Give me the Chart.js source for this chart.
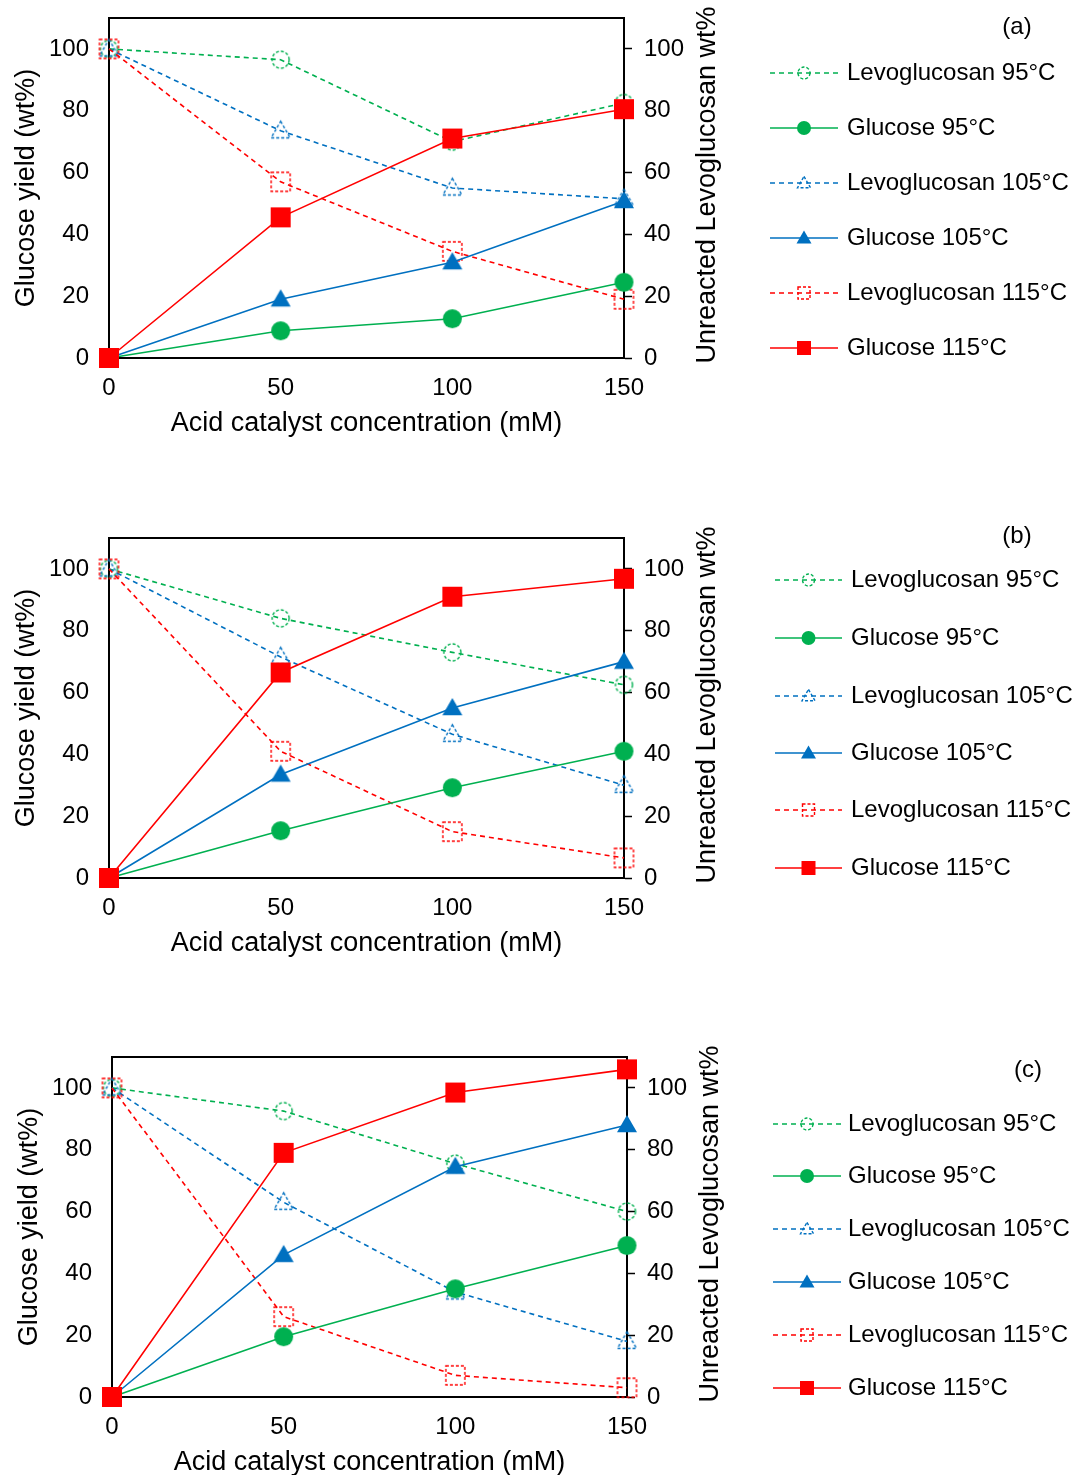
<!DOCTYPE html>
<html>
<head>
<meta charset="utf-8">
<script src="https://cdn.jsdelivr.net/npm/chart.js@4.4.0/dist/chart.umd.min.js"></script>
<style>
  html, body { margin: 0; padding: 0; background: #fff; overflow: hidden; }
  body { width: 1075px; height: 1475px; position: relative; }
  .panel { position: absolute; width: 1075px; height: 440px; }
</style>
</head>
<body>
<div class="panel" style="left:0;top:0"><canvas id="chartA" width="1075" height="440"></canvas></div>
<div class="panel" style="left:0;top:520px"><canvas id="chartB" width="1075" height="440"></canvas></div>
<div class="panel" style="left:3px;top:1039px"><canvas id="chartC" width="1075" height="440"></canvas></div>
<script>
const concentrations = [0, 50, 100, 150];
const seriesLabels = [
  "Levoglucosan 95°C", "Glucose 95°C",
  "Levoglucosan 105°C", "Glucose 105°C",
  "Levoglucosan 115°C", "Glucose 115°C"
];

// (a)
const levo95A = [100, 96.5, 70, 82.5];
const glc95A = [0, 8.8, 12.7, 24.5];
const levo105A = [100, 73.5, 55, 51.5];
const glc105A = [0, 19, 31, 50.8];
const levo115A = [100, 57, 34.5, 19];
const glc115A = [0, 45.5, 71, 80.5];

// (b)
const levo95B = [100, 84, 73, 62.5];
const glc95B = [0, 15.3, 29.2, 41];
const levo105B = [100, 71.5, 46.5, 30];
const glc105B = [0, 33.5, 55, 70];
const levo115B = [100, 41, 15, 6.5];
const glc115B = [0, 66.5, 91, 96.8];

// (c)
const levo95C = [100, 92.5, 75.5, 60];
const glc95C = [0, 19.5, 35, 49];
const levo105C = [100, 63, 34, 18];
const glc105C = [0, 46, 74.5, 88];
const levo115C = [100, 26, 7, 3];
const glc115C = [0, 79, 98.5, 106];

const GREEN = "#00B050", BLUE = "#0070C0", RED = "#FF0000";
const FONT = "'Liberation Sans', Arial, sans-serif";

Chart.defaults.font.family = FONT;
Chart.defaults.color = "#000";

// marker style per series (same order as seriesLabels)
const seriesStyles = [
  { color: GREEN, shape: "circle", dashed: true, axis: "y2", size: 17, legendSize: 12 },
  { color: GREEN, shape: "circle", dashed: false, axis: "y", size: 19, legendSize: 14 },
  { color: BLUE, shape: "triangle", dashed: true, axis: "y2", size: 19, legendSize: 13 },
  { color: BLUE, shape: "triangle", dashed: false, axis: "y", size: 20, legendSize: 15 },
  { color: RED, shape: "rect", dashed: true, axis: "y2", size: 19, legendSize: 12 },
  { color: RED, shape: "rect", dashed: false, axis: "y", size: 20, legendSize: 14 }
];

function drawShape(ctx, shape, color, dashed, x, y, size) {
  const h = size / 2;
  ctx.save();
  ctx.beginPath();
  if (shape === "circle") {
    ctx.arc(x, y, h, 0, Math.PI * 2);
  } else if (shape === "rect") {
    ctx.rect(x - h, y - h, size, size);
  } else {
    const th = size * 0.87;
    ctx.moveTo(x, y - th * 0.58);
    ctx.lineTo(x + h, y + th * 0.42);
    ctx.lineTo(x - h, y + th * 0.42);
    ctx.closePath();
  }
  if (dashed) {
    ctx.setLineDash([3, 2]);
    ctx.lineWidth = 1.4;
    ctx.strokeStyle = color;
    ctx.stroke();
  } else {
    ctx.fillStyle = color;
    ctx.fill();
  }
  ctx.restore();
}

function markerCanvas(style) {
  const dim = Math.ceil(style.size + 6);
  const c = document.createElement("canvas");
  c.width = dim;
  c.height = dim;
  drawShape(c.getContext("2d"), style.shape, style.color, style.dashed, dim / 2, dim / 2, style.size);
  return c;
}

const panelDecor = {
  id: "panelDecor",
  beforeDatasetsDraw(chart) {
    const { ctx, chartArea } = chart;
    ctx.save();
    ctx.strokeStyle = "#000";
    ctx.lineWidth = 2;
    ctx.beginPath();
    ctx.moveTo(chartArea.left - 1, chartArea.top);
    ctx.lineTo(chartArea.right + 1, chartArea.top);
    ctx.stroke();
    ctx.restore();
  },
  afterDraw(chart, args, opts) {
    const { ctx, chartArea } = chart;
    ctx.save();
    // right axis title, reading bottom to top
    ctx.translate(chartArea.right + 84, (chartArea.top + chartArea.bottom) / 2 - 3);
    ctx.rotate(-Math.PI / 2);
    ctx.font = "27px " + FONT;
    ctx.fillStyle = "#000";
    ctx.textAlign = "center";
    ctx.textBaseline = "middle";
    ctx.fillText("Unreacted Levoglucosan wt%", 0, 0);
    ctx.restore();

    // legend
    ctx.save();
    ctx.font = "24px " + FONT;
    ctx.textBaseline = "middle";
    ctx.textAlign = "left";
    chart.data.datasets.forEach((ds, i) => {
      const st = seriesStyles[i];
      const y = opts.rows[i];
      ctx.save();
      ctx.strokeStyle = st.color;
      ctx.lineWidth = 1.6;
      ctx.setLineDash(st.dashed ? [5, 4] : []);
      ctx.beginPath();
      ctx.moveTo(opts.lineX0, y);
      ctx.lineTo(opts.lineX1, y);
      ctx.stroke();
      ctx.restore();
      drawShape(ctx, st.shape, st.color, st.dashed, (opts.lineX0 + opts.lineX1) / 2, y, st.legendSize);
      ctx.fillStyle = "#000";
      ctx.fillText(ds.label, opts.textX, y);
    });
    ctx.textAlign = "center";
    ctx.fillText(opts.tag, opts.tagX, opts.tagY);
    ctx.restore();
  }
};

function makePanel(id, seriesValues, legendOpts) {
  const datasets = seriesValues.map((vals, i) => {
    const st = seriesStyles[i];
    return {
      label: seriesLabels[i],
      data: concentrations.map((c, k) => ({ x: c, y: vals[k] })),
      yAxisID: st.axis,
      borderColor: st.color,
      backgroundColor: st.color,
      borderWidth: 1.6,
      borderDash: st.dashed ? [5, 4] : [],
      pointStyle: markerCanvas(st),
      pointRadius: 10,
      pointHoverRadius: 10,
      // solid glucose series on top, red last-drawn
      order: st.dashed ? 20 - i : 10 - i,
      tension: 0,
      clip: false
    };
  });

  const fitY = (width) => (s) => {
    s.width = width;
    s.paddingTop = 0;
    s.paddingBottom = 0;
  };

  const yCommon = {
    type: "linear",
    min: 0,
    max: 110,
    afterBuildTicks: (s) => { s.ticks = s.ticks.filter(t => t.value <= 100); },
    ticks: { stepSize: 20, font: { size: 24 }, color: "#000" },
    border: { display: true, color: "#000", width: 2 }
  };

  return new Chart(document.getElementById(id), {
    type: "line",
    data: { datasets },
    plugins: [panelDecor],
    options: {
      responsive: false,
      animation: false,
      layout: { padding: { left: 0, right: 353, top: 18, bottom: 0 } },
      scales: {
        x: {
          type: "linear",
          min: 0,
          max: 150,
          afterFit: (s) => { s.height = 82; s.paddingLeft = 0; s.paddingRight = 0; },
          ticks: { stepSize: 50, font: { size: 24 }, color: "#000", padding: 16 },
          grid: { display: false, drawTicks: false },
          border: { display: true, color: "#000", width: 2 },
          title: {
            display: true,
            text: "Acid catalyst concentration (mM)",
            font: { size: 27 },
            color: "#000",
            padding: { top: 0, bottom: 0 }
          }
        },
        y: {
          ...yCommon,
          position: "left",
          afterFit: fitY(109),
          ticks: { ...yCommon.ticks, padding: 20 },
          grid: { display: false, drawTicks: false },
          title: {
            display: true,
            text: "Glucose yield (wt%)",
            font: { size: 27 },
            color: "#000",
            padding: { top: 10, bottom: 0 }
          }
        },
        y2: {
          ...yCommon,
          position: "right",
          afterFit: fitY(98),
          ticks: { ...yCommon.ticks, padding: 12 },
          grid: {
            display: true,
            drawOnChartArea: false,
            drawTicks: true,
            tickLength: 8,
            tickColor: "#000",
            tickWidth: 1.5
          },
          title: { display: false }
        }
      },
      plugins: {
        legend: { display: false },
        tooltip: { enabled: false },
        panelDecor: legendOpts
      }
    }
  });
}

makePanel("chartA", [levo95A, glc95A, levo105A, glc105A, levo115A, glc115A], {
  rows: [73, 128, 183, 238, 293, 348],
  lineX0: 770, lineX1: 838, textX: 847,
  tag: "(a)", tagX: 1017, tagY: 27
});

makePanel("chartB", [levo95B, glc95B, levo105B, glc105B, levo115B, glc115B], {
  rows: [60, 118, 176, 233, 290, 348],
  lineX0: 775, lineX1: 842, textX: 851,
  tag: "(b)", tagX: 1017, tagY: 16
});

makePanel("chartC", [levo95C, glc95C, levo105C, glc105C, levo115C, glc115C], {
  rows: [85, 137, 190, 243, 296, 349],
  lineX0: 770, lineX1: 838, textX: 845,
  tag: "(c)", tagX: 1025, tagY: 31
});
</script>
</body>
</html>
